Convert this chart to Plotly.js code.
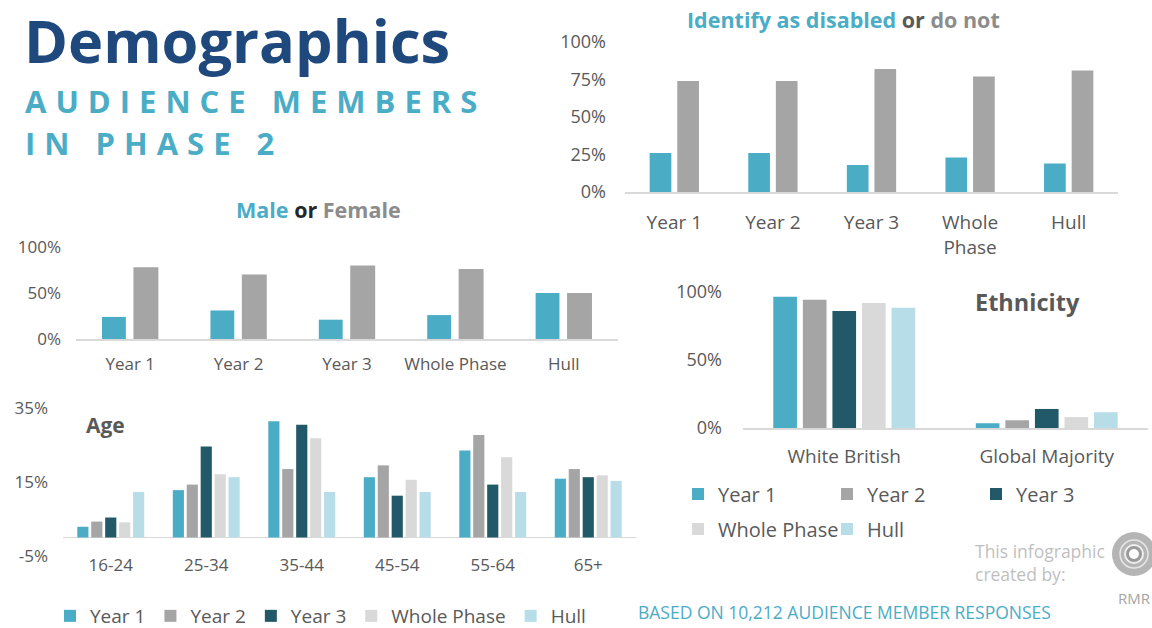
<!DOCTYPE html>
<html><head><meta charset="utf-8">
<script src="https://cdn.plot.ly/plotly-3.0.1.min.js"></script>
<style>html,body{margin:0;padding:0;background:#fff;} #chart{width:1152px;height:628px;}</style>
</head><body><div id="chart"></div>
<script>
// ---------- DATA ----------
const disabledCats = ['Year 1', 'Year 2', 'Year 3', 'Whole<br>Phase', 'Hull'];
const disabledYes = [26, 26, 18, 23, 19];
const disabledNo = [74, 74, 82, 77, 81];

const genderCats = ['Year 1', 'Year 2', 'Year 3', 'Whole Phase', 'Hull'];
const male = [24, 31, 21, 26, 50];
const female = [78, 70, 80, 76, 50];

const ageCats = ['16-24', '25-34', '35-44', '45-54', '55-64', '65+'];
const ageYear1 = [2.9, 12.8, 31.4, 16.3, 23.5, 15.9];
const ageYear2 = [4.3, 14.3, 18.5, 19.5, 27.7, 18.5];
const ageYear3 = [5.4, 24.6, 30.5, 11.3, 14.3, 16.3];
const ageWhole = [4.1, 17.1, 26.8, 15.6, 21.7, 16.8];
const ageHull = [12.3, 16.3, 12.3, 12.3, 12.3, 15.3];

const ethCats = ['White British', 'Global Majority'];
const ethYear1 = [96.5, 3.5];
const ethYear2 = [94.3, 5.7];
const ethYear3 = [86.0, 14.0];
const ethWhole = [92.0, 8.0];
const ethHull = [88.4, 11.6];

const seriesNames = ['Year 1', 'Year 2', 'Year 3', 'Whole Phase', 'Hull'];

const pctTicks4 = [0, 25, 50, 75, 100];
const pctTicks2 = [0, 50, 100];
const ageTicks = [-5, 15, 35];

// ---------- STYLE ----------
const W = 1152, H = 628;
const px = v => v / W;
const py = v => 1 - v / H;
const colors = ['#4BACC6', '#A5A5A5', '#215968', '#D9D9D9', '#B7DEE8'];
const FONT = 'Open Sans, Lato, sans-serif';
const TXT = '#595959';
const pctText = arr => arr.map(v => String(v) + '%');

const traces = [];
// Disabled
traces.push({type: 'bar', x: disabledCats, y: disabledYes, xaxis: 'x', yaxis: 'y', marker: {color: colors[0]}, width: 0.22, offset: -0.25, showlegend: false, hoverinfo: 'skip'});
traces.push({type: 'bar', x: disabledCats, y: disabledNo, xaxis: 'x', yaxis: 'y', marker: {color: colors[1]}, width: 0.22, offset: 0.03, showlegend: false, hoverinfo: 'skip'});
// Gender
traces.push({type: 'bar', x: genderCats, y: male, xaxis: 'x2', yaxis: 'y2', marker: {color: colors[0]}, width: 0.22, offset: -0.26, showlegend: false, hoverinfo: 'skip'});
traces.push({type: 'bar', x: genderCats, y: female, xaxis: 'x2', yaxis: 'y2', marker: {color: colors[1]}, width: 0.23, offset: 0.03, showlegend: false, hoverinfo: 'skip'});
// Age
const ageSeries = [ageYear1, ageYear2, ageYear3, ageWhole, ageHull];
ageSeries.forEach((s, i) => traces.push({type: 'bar', name: seriesNames[i], x: ageCats, y: s, xaxis: 'x3', yaxis: 'y3', marker: {color: colors[i]}, legend: 'legend', showlegend: true, hoverinfo: 'skip'}));
// Ethnicity
const ethSeries = [ethYear1, ethYear2, ethYear3, ethWhole, ethHull];
ethSeries.forEach((s, i) => traces.push({type: 'bar', name: seriesNames[i], x: ethCats, y: s, xaxis: 'x4', yaxis: 'y4', marker: {color: colors[i]}, legend: i < 3 ? 'legend2' : 'legend3', showlegend: true, hoverinfo: 'skip'}));

const tickY = {showgrid: false, zeroline: false, showline: false, ticks: '', tickmode: 'array', tickfont: {family: FONT, size: 17, color: TXT}, ticklabelstandoff: 14, fixedrange: true};
const tickX = {type: 'category', showgrid: false, zeroline: false, ticks: '', showline: true, linecolor: '#D9D9D9', linewidth: 1.5, tickfont: {family: FONT, size: 18, color: TXT}, fixedrange: true};

const legendBase = {orientation: 'h', xanchor: 'left', yanchor: 'middle', font: {family: FONT, size: 20, color: TXT}, bgcolor: 'rgba(0,0,0,0)', traceorder: 'normal'};

const layout = {
  width: W, height: H,
  margin: {l: 0, r: 0, t: 0, b: 0, autoexpand: false},
  paper_bgcolor: '#fff', plot_bgcolor: 'rgba(0,0,0,0)',
  barmode: 'group', bargap: 0.27, bargroupgap: 0.2,
  font: {family: FONT, color: TXT},
  xaxis: Object.assign({}, tickX, {domain: [px(625), px(1118)], anchor: 'y', ticklabelstandoff: 13, tickfont: {family: FONT, size: 19, color: TXT}}),
  yaxis: Object.assign({}, tickY, {domain: [py(192), py(42)], range: [0, 100], tickvals: pctTicks4, ticktext: pctText(pctTicks4), anchor: 'x', tickfont: {family: FONT, size: 18, color: TXT}, ticklabelstandoff: 18}),
  xaxis2: Object.assign({}, tickX, {domain: [px(76), px(618)], anchor: 'y2', ticklabelstandoff: 9, tickfont: {family: FONT, size: 17, color: TXT}}),
  yaxis2: Object.assign({}, tickY, {domain: [py(339), py(247)], range: [0, 100], tickvals: pctTicks2, ticktext: pctText(pctTicks2), anchor: 'x2'}),
  xaxis3: Object.assign({}, tickX, {domain: [px(63), px(636)], anchor: 'free', position: py(553), showline: false, ticklabelstandoff: 0, tickfont: {family: FONT, size: 17, color: TXT}}),
  yaxis3: Object.assign({}, tickY, {domain: [py(556), py(408)], range: [-5, 35], tickvals: ageTicks, ticktext: pctText(ageTicks), anchor: 'x3', zeroline: true, zerolinecolor: '#D9D9D9', zerolinewidth: 1.5}),
  xaxis4: Object.assign({}, tickX, {domain: [px(743), px(1148)], anchor: 'y4', ticklabelstandoff: 11, tickfont: {family: FONT, size: 19, color: TXT}}),
  yaxis4: Object.assign({}, tickY, {domain: [py(428), py(292)], range: [0, 100], tickvals: pctTicks2, ticktext: pctText(pctTicks2), anchor: 'x4', tickfont: {family: FONT, size: 18, color: TXT}, ticklabelstandoff: 20}),
  legend: Object.assign({}, legendBase, {x: px(50), y: py(616), font: {family: FONT, size: 19, color: TXT}}),
  legend2: Object.assign({}, legendBase, {x: px(678), y: py(494), entrywidth: 104}),
  legend3: Object.assign({}, legendBase, {x: px(678), y: py(529), entrywidth: 104}),
  annotations: [
    {text: '<b>Demographics</b>', x: px(22), y: py(40), xanchor: 'left', yanchor: 'middle', font: {family: FONT, size: 59.5, color: '#1F497D'}},
    {text: '<b><span style="letter-spacing:9px">AUDIENCE MEMBERS</span></b>', x: px(23), y: py(101), xanchor: 'left', yanchor: 'middle', font: {family: FONT, size: 31, color: '#4BACC6'}},
    {text: '<b><span style="letter-spacing:9px">IN PHASE 2</span></b>', x: px(23), y: py(143), xanchor: 'left', yanchor: 'middle', font: {family: FONT, size: 31, color: '#4BACC6'}},
    {text: '<b><span style="color:#4BACC6">Identify as disabled</span> <span style="color:#595959">or</span> <span style="color:#8C8C8C">do not</span></b>', x: px(843), y: py(20), xanchor: 'center', yanchor: 'middle', font: {family: FONT, size: 21.5}},
    {text: '<b><span style="color:#4BACC6">Male</span> <span style="color:#262626">or</span> <span style="color:#8C8C8C">Female</span></b>', x: px(318), y: py(209), xanchor: 'center', yanchor: 'middle', font: {family: FONT, size: 21.5}},
    {text: '<b>Age</b>', x: px(84), y: py(425), xanchor: 'left', yanchor: 'middle', font: {family: FONT, size: 21, color: TXT}},
    {text: '<b>Ethnicity</b>', x: px(973), y: py(302), xanchor: 'left', yanchor: 'middle', font: {family: FONT, size: 23.5, color: TXT}},
    {text: 'This infographic<br>created by:', x: px(973), y: py(562), xanchor: 'left', yanchor: 'middle', align: 'left', font: {family: FONT, size: 17.5, color: '#BFBFBF'}},
    {text: 'RMR', x: px(1116), y: py(598), xanchor: 'left', yanchor: 'middle', font: {family: FONT, size: 15, color: '#A5A5A5'}},
    {text: 'BASED ON 10,212 AUDIENCE MEMBER RESPONSES', x: px(636), y: py(612), xanchor: 'left', yanchor: 'middle', font: {family: FONT, size: 17.5, color: '#4BACC6'}}
  ].map(a => Object.assign({xref: 'paper', yref: 'paper', showarrow: false}, a)),
  shapes: [
    {type: 'circle', xref: 'paper', yref: 'paper', x0: px(1112), x1: px(1156), y0: py(576), y1: py(532), fillcolor: '#B5B5B5', line: {width: 0}},
    {type: 'circle', xref: 'paper', yref: 'paper', x0: px(1120), x1: px(1148), y0: py(568), y1: py(540), fillcolor: 'rgba(0,0,0,0)', line: {width: 1.5, color: '#E6E6E6'}},
    {type: 'circle', xref: 'paper', yref: 'paper', x0: px(1125), x1: px(1143), y0: py(563), y1: py(545), fillcolor: '#9A9A9A', line: {width: 2, color: '#EEEEEE'}},
    {type: 'circle', xref: 'paper', yref: 'paper', x0: px(1129), x1: px(1139), y0: py(559), y1: py(549), fillcolor: '#FFFFFF', line: {width: 0}}
  ]
};

Plotly.newPlot('chart', traces, layout, {displayModeBar: false, staticPlot: true});
</script>
</body></html>
